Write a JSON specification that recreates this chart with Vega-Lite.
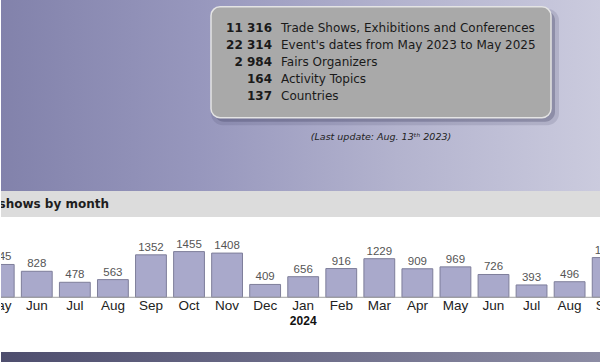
{
  "$schema": "https://vega.github.io/schema/vega-lite/v6.json",
  "padding": 0,
  "spacing": 0,
  "background": "#ffffff",
  "config": {
    "view": {"stroke": null},
    "locale": {"number": {"decimal": ".", "thousands": " ", "grouping": [3], "currency": ["", ""]}}
  },
  "datasets": {
    "stats": [
      {"row": 1, "n": 11316, "label": "Trade Shows, Exhibitions and Conferences"},
      {"row": 2, "n": 22314, "label": "Event's dates from May 2023 to May 2025"},
      {"row": 3, "n": 2984, "label": "Fairs Organizers"},
      {"row": 4, "n": 164, "label": "Activity Topics"},
      {"row": 5, "n": 137, "label": "Countries"}
    ],
    "months": [
      {"month": "2023-05", "label": "May", "count": 1045},
      {"month": "2023-06", "label": "Jun", "count": 828},
      {"month": "2023-07", "label": "Jul", "count": 478},
      {"month": "2023-08", "label": "Aug", "count": 563},
      {"month": "2023-09", "label": "Sep", "count": 1352},
      {"month": "2023-10", "label": "Oct", "count": 1455},
      {"month": "2023-11", "label": "Nov", "count": 1408},
      {"month": "2023-12", "label": "Dec", "count": 409},
      {"month": "2024-01", "label": "Jan", "count": 656, "year": "2024"},
      {"month": "2024-02", "label": "Feb", "count": 916},
      {"month": "2024-03", "label": "Mar", "count": 1229},
      {"month": "2024-04", "label": "Apr", "count": 909},
      {"month": "2024-05", "label": "May", "count": 969},
      {"month": "2024-06", "label": "Jun", "count": 726},
      {"month": "2024-07", "label": "Jul", "count": 393},
      {"month": "2024-08", "label": "Aug", "count": 496},
      {"month": "2024-09", "label": "Sep", "count": 1265}
    ]
  },
  "vconcat": [
    {
      "width": 600,
      "height": 191,
      "layer": [
        {
          "data": {"values": [{}]},
          "mark": {"type": "rect", "color": {"gradient": "linear", "x1": 0, "y1": 0, "x2": 1, "y2": 0,
            "stops": [{"offset": 0, "color": "#8282ab"}, {"offset": 0.33, "color": "#9797bd"}, {"offset": 0.66, "color": "#b3b3ce"}, {"offset": 1, "color": "#cbcbde"}]}},
          "encoding": {}
        },
        {
          "data": {"values": [{}]},
          "mark": {"type": "rect", "fill": "#3c3c5c", "opacity": 0.15, "cornerRadius": 12},
          "encoding": {
            "x": {"datum": 210, "type": "quantitative", "scale": {"domain": [0, 600], "nice": false, "zero": false}, "axis": null},
            "x2": {"datum": 558},
            "y": {"datum": -0.15, "type": "quantitative", "scale": {"domain": [-0.665, 10.571], "nice": false, "zero": false, "reverse": true}, "axis": null},
            "y2": {"datum": 6.7}
          }
        },
        {
          "data": {"values": [{}]},
          "mark": {"type": "rect", "fill": "#3c3c5c", "opacity": 0.3, "cornerRadius": 10},
          "encoding": {
            "x": {"datum": 213, "type": "quantitative"},
            "x2": {"datum": 554},
            "y": {"datum": -0.05, "type": "quantitative"},
            "y2": {"datum": 6.5}
          }
        },
        {
          "data": {"values": [{}]},
          "mark": {"type": "rect", "fill": "#a9a9a9", "stroke": "#e4e4e4", "strokeWidth": 1.5, "cornerRadius": 9},
          "encoding": {
            "x": {"datum": 210, "type": "quantitative"},
            "x2": {"datum": 550},
            "y": {"datum": -0.27, "type": "quantitative"},
            "y2": {"datum": 6.26}
          }
        },
        {
          "data": {"name": "stats"},
          "mark": {"type": "text", "align": "right", "baseline": "middle", "font": "DejaVu Sans", "fontSize": 12, "fontWeight": "bold", "color": "#1a1a1a"},
          "encoding": {
            "x": {"datum": 271, "type": "quantitative"},
            "y": {"field": "row", "type": "quantitative"},
            "text": {"field": "n", "type": "quantitative", "format": ",d"}
          }
        },
        {
          "data": {"name": "stats"},
          "mark": {"type": "text", "align": "left", "baseline": "middle", "font": "DejaVu Sans", "fontSize": 12, "color": "#1a1a1a"},
          "encoding": {
            "x": {"datum": 280, "type": "quantitative"},
            "y": {"field": "row", "type": "quantitative"},
            "text": {"field": "label", "type": "nominal"}
          }
        },
        {
          "data": {"values": [{"t": "(Last update: Aug. 13ᵗʰ 2023)"}]},
          "mark": {"type": "text", "align": "center", "baseline": "middle", "font": "DejaVu Sans", "fontSize": 9.5, "fontStyle": "italic", "color": "#222222"},
          "encoding": {
            "x": {"datum": 380, "type": "quantitative"},
            "y": {"datum": 7.39, "type": "quantitative"},
            "text": {"field": "t", "type": "nominal"}
          }
        }
      ]
    },
    {
      "width": 600,
      "height": 26,
      "layer": [
        {
          "data": {"values": [{}]},
          "mark": {"type": "rect", "color": "#dcdcdc"},
          "encoding": {}
        },
        {
          "data": {"values": [{"t": "Trade shows by month"}]},
          "mark": {"type": "text", "align": "right", "baseline": "middle", "font": "DejaVu Sans", "fontSize": 12, "fontWeight": "bold", "color": "#1e1e1e", "clip": true},
          "encoding": {
            "x": {"datum": 108, "type": "quantitative", "scale": {"domain": [0, 600], "nice": false, "zero": false}, "axis": null},
            "text": {"field": "t", "type": "nominal"}
          }
        }
      ]
    },
    {
      "width": 600,
      "height": 135,
      "data": {"name": "months"},
      "encoding": {
        "x": {"field": "month", "type": "ordinal", "sort": null, "axis": null,
          "scale": {"range": [-21.3, 625.7], "paddingInner": 0.19, "paddingOuter": 0.095}}
      },
      "layer": [
        {
          "mark": {"type": "bar", "fill": "#a9a9cb", "stroke": "#7e7e9a", "strokeWidth": 1, "clip": true},
          "encoding": {
            "y": {"field": "count", "type": "quantitative", "axis": null,
              "scale": {"domain": [-1742, 2557], "nice": false, "zero": false}}
          }
        },
        {
          "data": {"values": [{}]},
          "mark": {"type": "rule", "color": "#a0a0a0", "strokeWidth": 1},
          "encoding": {"x": null, "y": {"datum": 0, "type": "quantitative"}}
        },
        {
          "mark": {"type": "text", "baseline": "bottom", "dy": -2, "font": "Liberation Sans", "fontSize": 11.5, "color": "#555555", "clip": true},
          "encoding": {
            "y": {"field": "count", "type": "quantitative"},
            "text": {"field": "count", "type": "quantitative", "format": "d"}
          }
        },
        {
          "mark": {"type": "text", "baseline": "middle", "font": "Liberation Sans", "fontSize": 13.5, "color": "#222222", "clip": true},
          "encoding": {
            "y": {"datum": -287, "type": "quantitative"},
            "text": {"field": "label", "type": "nominal"}
          }
        },
        {
          "transform": [{"filter": "datum.year"}],
          "mark": {"type": "text", "baseline": "middle", "font": "Liberation Sans", "fontSize": 12, "fontWeight": "bold", "color": "#111111", "clip": true},
          "encoding": {
            "y": {"datum": -755, "type": "quantitative"},
            "text": {"field": "year", "type": "nominal"}
          }
        }
      ]
    },
    {
      "width": 600,
      "height": 10,
      "layer": [
        {
          "data": {"values": [{}]},
          "mark": {"type": "rect", "color": {"gradient": "linear", "x1": 0, "y1": 0, "x2": 1, "y2": 0,
            "stops": [{"offset": 0, "color": "#4e4e6e"}, {"offset": 1, "color": "#8c8ca4"}]}},
          "encoding": {}
        }
      ]
    }
  ]
}
